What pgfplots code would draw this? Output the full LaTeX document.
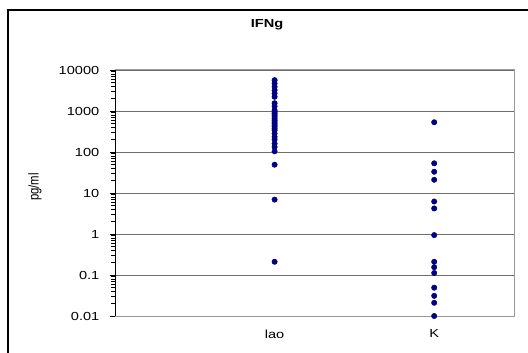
\documentclass[border=0pt]{standalone}
\usepackage{pgfplots}
\pgfplotsset{compat=1.18}
\usepackage{fontspec}
\setmainfont{Liberation Sans}
\newfontfamily\wide[FakeStretch=1.25]{Liberation Sans}
\definecolor{dotblue}{RGB}{0,0,128}
\definecolor{gridc}{RGB}{110,110,110}
\begin{document}
\begin{tikzpicture}[x=0.75pt,y=0.75pt]
\path[use as bounding box] (0,0) rectangle (528,353);
\begin{scope}
\clip (0,0) rectangle (528,353);
\draw[draw=black, line width=0.8pt] (8,0) -- (8,343) -- (528,343);
\end{scope}
\node[font=\wide\fontsize{8.75}{10}\selectfont\bfseries] at (267,328) {IFNg};
\node[rotate=90, font=\fontsize{8.5}{10}\selectfont] at (35,166) {\scalebox{1}[1.25]{pg/ml}};
\begin{axis}[
  at={(115pt*0.75,37pt*0.75)}, anchor=south west,
  scale only axis, width=299.25pt, height=184.5pt,
  xmin=0, xmax=2.5,
  ymode=log, ymin=0.01, ymax=10000,
  ytick={0.01,0.1,1,10,100,1000,10000},
  yticklabels={0.01,0.1,1,10,100,1000,10000},
  xtick={1,2}, xticklabels={lao,K},
  major x tick style={draw=none},
  minor y tick num=0,
  ytick pos=left, tick align=outside,
  major tick length=3.75pt,
  tick style={black, line width=0.6pt},
  ymajorgrids, grid style={gridc, line width=0.6pt},
  axis line style={gray!80, line width=0.75pt},
  tick label style={font=\wide\fontsize{8.75}{10}\selectfont},
  /pgf/number format/assume math mode=true,
  xticklabel style={yshift=-3pt},
  yticklabel style={xshift=-4.5pt},
  clip=false,
]
\addplot[only marks, mark=*, mark size=2pt, color=dotblue, mark options={draw=dotblue, fill=dotblue}] coordinates {
(1,5660) (1,4700) (1,3900) (1,3230) (1,2680) (1,2220) (1,1550) (1,1300) (1,1050)
(1,950) (1,870) (1,800) (1,721) (1,650) (1,596) (1,540) (1,494) (1,450) (1,411)
(1,370) (1,340) (1,282) (1,234) (1,201) (1,160) (1,133) (1,104) (1,49) (1,6.9) (1,0.21)
};
\addplot[only marks, mark=*, mark size=2pt, color=dotblue, mark options={draw=dotblue, fill=dotblue}] coordinates {
(2,532) (2,53) (2,33) (2,21) (2,6.2) (2,4.2) (2,0.94) (2,0.21) (2,0.155) (2,0.112)
(2,0.049) (2,0.031) (2,0.021) (2,0.01)
};
\draw[black, line width=0.75pt] (rel axis cs:0,0) -- (rel axis cs:0,1);
\end{axis}
\end{tikzpicture}
\end{document}
